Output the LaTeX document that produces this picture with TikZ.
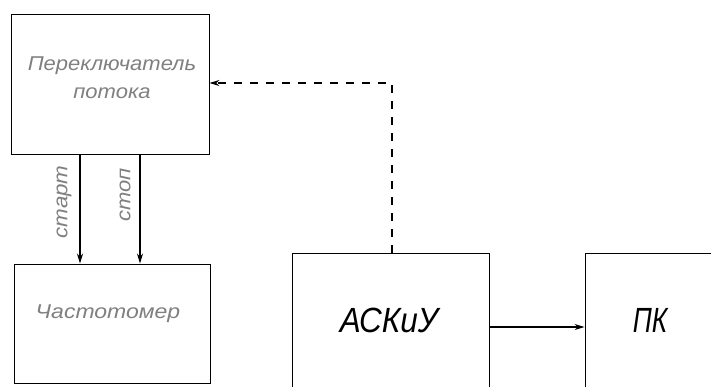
\documentclass[tikz,border=0pt]{standalone}
\usepackage{fontspec}
\setmainfont{Liberation Sans}
\usetikzlibrary{arrows.meta}
\begin{document}
\begin{tikzpicture}[x=1pt,y=-1pt,
  blockbox/.style={draw=black,line width=0.9pt,inner sep=0pt,rectangle},
  faint/.style={text=black!50,font=\fontsize{20}{30}\selectfont\itshape},
  bold/.style={text=black,font=\fontsize{35}{40}\selectfont\itshape},
  conn/.style={line width=1.6pt,-{Stealth[length=10pt,width=6pt]}},
  dconn/.style={line width=1.2pt,dash pattern=on 8pt off 8pt,-{Stealth[length=10pt,width=6pt]}}]
\useasboundingbox (0,0) rectangle (711,386);
\clip (0,0) rectangle (711,386);
\fill[white] (0,0) rectangle (711,386);
% blocks
\node[blockbox,minimum width=198pt,minimum height=140pt] (sw) at (110,84) {};
\node[faint,align=center] (swt) at (112,78) {\scalebox{1.1}[1]{Переключатель}\\[-2pt]\scalebox{1.1}[1]{потока}};
\node[blockbox,minimum width=196pt,minimum height=119pt] (fm) at (112,323.5) {};
\node[faint] (fmt) at (108,314) {\scalebox{1.15}[1]{Частотомер}};
\node[blockbox,minimum width=197pt,minimum height=148pt] (ask) at (390.5,327) {};
\node[bold] (askt) at (389,320) {\scalebox{0.9}[1]{АСКиУ}};
\node[blockbox,minimum width=130pt,minimum height=148pt] (pk) at (650,327) {};
\node[bold] (pkt) at (650,320) {\scalebox{0.75}[1]{ПК}};
% start/stop arrows
\coordinate (c1) at (80,0);
\coordinate (c2) at (140,0);
\draw[conn] (c1 |- sw.south) -- (c1 |- fm.north);
\draw[conn] (c2 |- sw.south) -- (c2 |- fm.north);
\node[faint,rotate=90] (lstart) at (64,202) {\scalebox{1.12}[1]{старт}};
\node[faint,rotate=90] (lstop) at (125,195) {\scalebox{1.1}[1]{стоп}};
% ASKiU -> PK
\draw[conn,line width=1.3pt] (ask.east) -- (pk.west);
% dashed feedback
\coordinate (d1) at (392,83);
\draw[dconn] (d1 |- ask.north) -- (d1) -- (sw.east |- d1);
\end{tikzpicture}
\end{document}
